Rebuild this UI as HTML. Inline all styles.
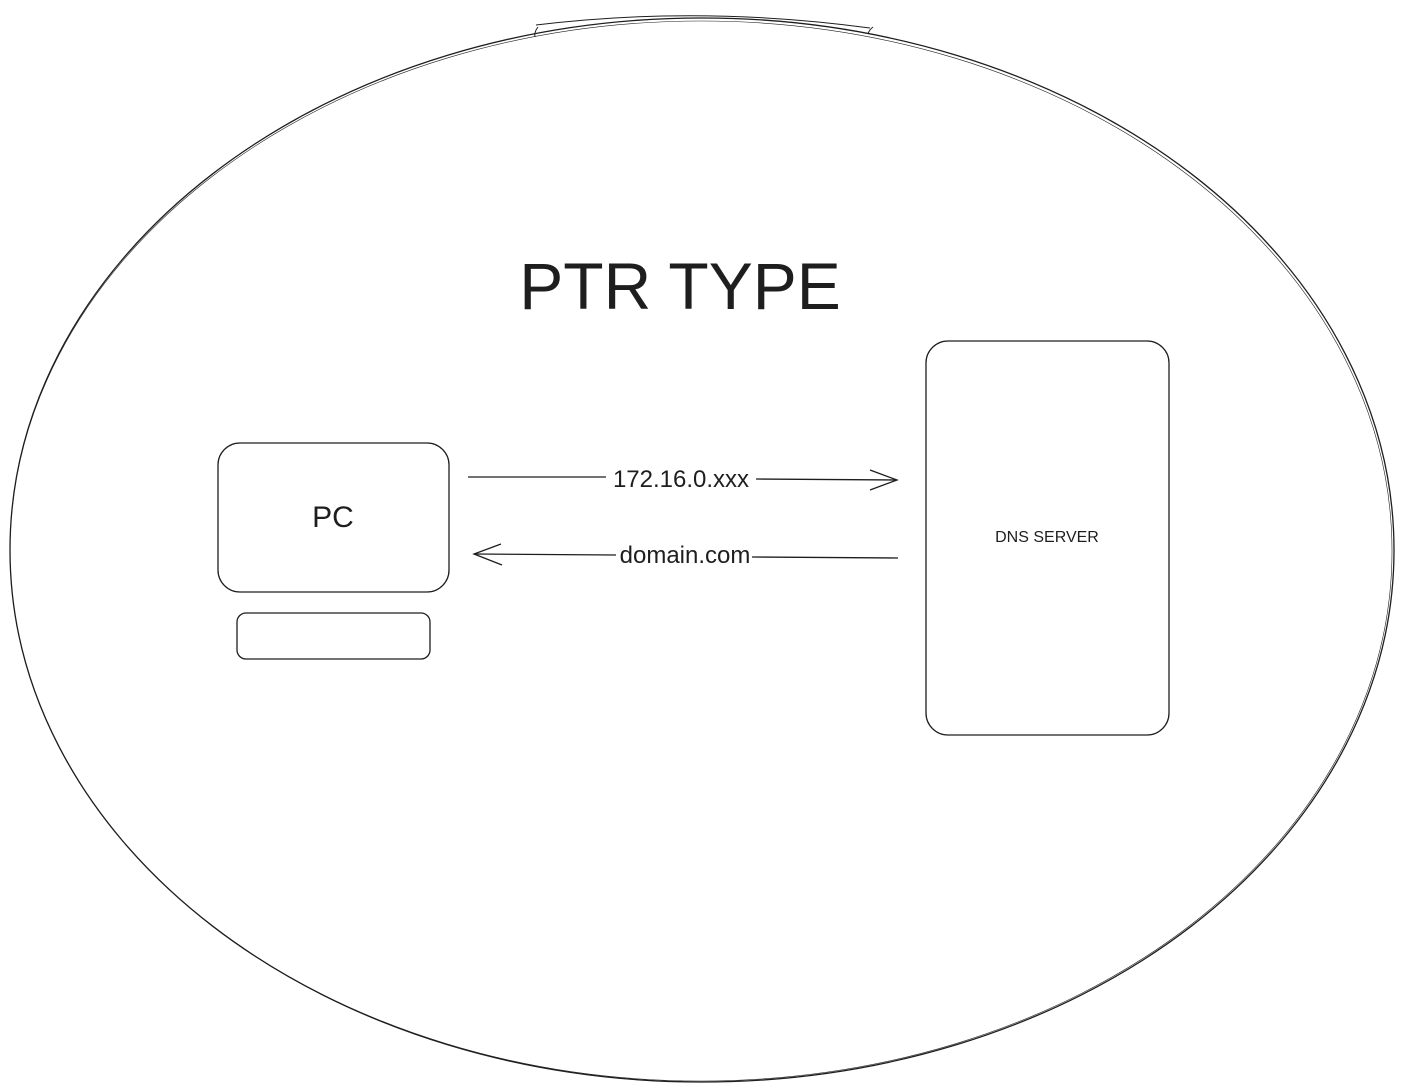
<!DOCTYPE html>
<html><head><meta charset="utf-8"><style>
html,body{margin:0;padding:0;background:#fff;}
svg{display:block;}
</style></head><body>
<svg width="1403" height="1092" viewBox="0 0 1403 1092" xmlns="http://www.w3.org/2000/svg">
<g fill="none" stroke="#1e1e1e" stroke-width="1.3">
<ellipse cx="702" cy="550" rx="692" ry="532"/>
<ellipse cx="701" cy="551" rx="691" ry="530" stroke-width="0.6"/>
<path d="M536 25 Q700 5 870 28" stroke-width="1"/>
<path d="M538 27 Q534 32 535 37 M873 27 Q869 30 868 34" stroke-width="1"/>
<rect x="218" y="443" width="231" height="149" rx="22"/>
<rect x="237" y="613" width="193" height="46" rx="9"/>
<rect x="926" y="341" width="243" height="394" rx="22"/>
<line x1="468" y1="477" x2="606" y2="477"/>
<line x1="756" y1="479" x2="897" y2="480"/>
<path d="M870 470 L897 480 L870 490"/>
<line x1="474" y1="554" x2="616" y2="555"/>
<line x1="752" y1="557" x2="898" y2="558"/>
<path d="M501 544 L474 554 L502 565"/>
</g>
<g font-family="'Comic Sans MS','Liberation Sans',sans-serif" fill="#1e1e1e" text-anchor="middle">
<text x="680" y="309" font-size="66" font-family="'Liberation Sans',sans-serif">PTR TYPE</text>
<text x="333" y="527" font-size="30">PC</text>
<text x="681" y="487" font-size="24">172.16.0.xxx</text>
<text x="685" y="563" font-size="24">domain.com</text>
<text x="1047" y="542" font-size="16">DNS SERVER</text>
</g>
</svg>
</body></html>
